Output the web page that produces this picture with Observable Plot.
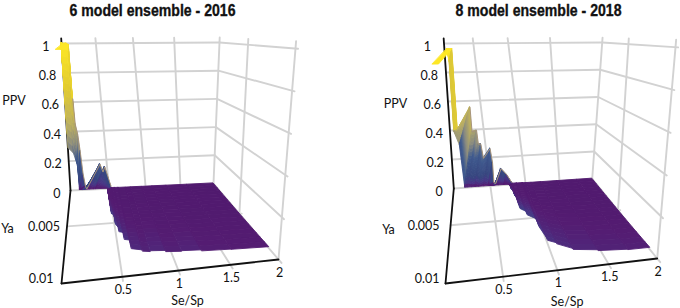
<!DOCTYPE html>
<html><head><meta charset="utf-8">
<style>html,body{margin:0;padding:0;background:#fff;overflow:hidden}svg{display:block}</style>
<script src="https://cdn.jsdelivr.net/npm/d3@7"></script>
<script src="https://cdn.jsdelivr.net/npm/@observablehq/plot@0.6"></script>
</head><body>
<script>
// ---- tick values and texts
const seTicks = [0.5, 1, 1.5, 2];
const yaTicks = [0.005, 0.01];
const ppvTicks = [0, 0.2, 0.4, 0.6, 0.8, 1];
const titles = ["6 model ensemble - 2016", "8 model ensemble - 2018"];

// ---- 2016 surface: crest and foot of the high-PPV curtain at Ya = 0
const seFoot16 = [0, .012, .075, .10, .11, .118, .12, .122, .13, .14, .15, .25, .30, .33, .50];
const ppvFoot16 = [1, .285, .25, .2, .18, .15, .08, 0, 0, 0, 0, 0, 0, 0, 0];
const seCrest16 = [0, .012, .075, .108, .112, .12, .144, .16, .176, .196, .21, .41, .44, .47, .53];
const ppvCrest16 = [1, 1, 1, .99, .62, .45, .38, .265, .11, .02, .005, .17, .115, .15, .015];
// ---- 2016 surface: low-PPV sheet, per Se/Sp column
const seSheet16 = [.485, .49, .49, .515, .515, .54, .54, .58, .58, .63, .63, .73, .8, .95, 1.1, 1.3, 1.6, 2];
const yaSheet16 = [.0002, .0044, .0048, .0050, .0060, .0064, .0067, .0068, .0074, .0075, .0082, .0084, .0085, .0086, .0087, .0088, .0089, .009];
const ppvSheet16 = [.04, .04, .04, .04, .036, .036, .03, .03, .024, .024, .018, .012, .016, .010, .013, .008, .007, .006];
// ---- 2016 surface: tip at the top of the curtain
const seTip16 = [.01, .11, .11, 0];
const yaTip16 = [0, 0, .0008, .0035];
const ppvTip16 = [.99, .99, .96, .97];

// ---- 2018 surface
const seFoot18 = [.05, .075, .064, .13, .155, .2, .25, .3, .35, .42, .48, .50, .555, .62, .7, .805];
const ppvFoot18 = [.96, .87, .39, .295, 0, 0, 0, 0, 0, 0, 0, 0, 0, 0, 0, 0];
const seCrest18 = [.05, .14, .119, .336, .328, .396, .40, .435, .45, .56, .57, .555, .58, .68, .75, .805];
const ppvCrest18 = [.96, .96, .40, .554, .385, .39, .295, .295, .195, .26, .16, .02, .015, .115, .07, .015];
const seSheet18 = [.75, .78, .78, .80, .80, .82, .82, .88, .88, .96, .97, .97, 1.01, 1.09, 1.23, 1.47, 1.77, 2];
const yaSheet18 = [.0004, .0016, .0021, .0026, .0033, .0040, .0049, .0053, .0056, .0061, .0063, .00675, .008, .0083, .00885, .0091, .00925, .00926];
const ppvSheet18 = [.07, .07, .065, .065, .06, .055, .05, .05, .045, .04, .035, .03, .025, .02, .016, .012, .01, .008];
const seTip18 = [.05, .14, .13, .04];
const yaTip18 = [0, 0, .0065, .0065];
const ppvTip18 = [.96, .96, .9, .9];

// ---- camera of each panel: screen image of the box corners
const cameras = [
  {floor: [[70,190],[213,183],[61,283],[278,259]], top: [[61,43],[219,42],[39,48],[295,48]]},
  {floor: [[453.3,188],[591.7,178.3],[445,283],[656.7,258]], top: [[443.5,43],[601.7,42],[415,46],[675,46.7]]}
];
function homography([O, S, Y, F]) {
  const a1 = F[0]-S[0], b1 = F[0]-Y[0], c1 = F[0]-O[0];
  const a2 = F[1]-S[1], b2 = F[1]-Y[1], c2 = F[1]-O[1];
  const det = a1*b2 - a2*b1;
  const ws = (c1*b2 - c2*b1)/det, wy = (a1*c2 - a2*c1)/det;
  return (s, y) => {
    const o = 1-s-y, d = o + ws*s + wy*y;
    return [0,1].map(i => (o*O[i] + ws*s*S[i] + wy*y*Y[i])/d);
  };
}
const projectors = cameras.map(c => {
  const f = homography(c.floor), t = homography(c.top);
  return (se, ya, ppv) => {
    const a = f(se/2, ya/.01), b = t(se/2, ya/.01);
    return [a[0]+(b[0]-a[0])*ppv, a[1]+(b[1]-a[1])*ppv];
  };
});

let uid = 0;
function quadRows(P, A, B, C, D, ppv, out) { // A,B first edge; C,D second edge
  const id = uid++;
  const a=P(...A), b=P(...B), c=P(...C), d=P(...D);
  out.push({id, x1:a[0], y1:a[1], x2:b[0], y2:b[1], ppv});
  out.push({id, x1:c[0], y1:c[1], x2:d[0], y2:d[1], ppv});
}
function curtain(P, seF, pF, seC, pC, out) {
  const n = 16;
  for (let i = 0; i+1 < seF.length; i++) for (let k = 0; k < n; k++) {
    const at = (j, t) => [seF[j]+(seC[j]-seF[j])*t, 0, pF[j]+(pC[j]-pF[j])*t];
    const A = at(i,k/n), B = at(i,(k+1)/n), C = at(i+1,k/n), D = at(i+1,(k+1)/n);
    quadRows(P, A, B, C, D, (A[2]+B[2]+C[2]+D[2])/4, out);
  }
}
function sheet(P, se, ya, pp, out) {
  const n = 18;
  for (let i = 0; i+1 < se.length; i++) for (let k = 0; k < n; k++) {
    const t0 = k/n, t1 = (k+1)/n;
    const h = t => pp[i]*(.1 + .9*t*t*t);
    quadRows(P, [se[i],ya[i]*t0,h(t0)], [se[i],ya[i]*t1,h(t1)], [se[i+1],ya[i+1]*t0,h(t0)], [se[i+1],ya[i+1]*t1,h(t1)], h((t0+t1)/2), out);
  }
}

const ppvLabelDx = [-10, -7, -6, -6, -7, -12];
const gridRows = [], blackRows = [], surfaceRows = [], rimRows = [], endLabels = [], midLabels = [];
const panels = [
  {seF:seFoot16,pF:ppvFoot16,seC:seCrest16,pC:ppvCrest16,seS:seSheet16,yS:yaSheet16,pS:ppvSheet16,seT:seTip16,yT:yaTip16,pT:ppvTip16,rimFrom:4,
   title:[152,10], ppvT:[13.5,100], yaT:[7,228], seT2:[187,300], ppvDx:0, yaDx:[-7,-8]},
  {seF:seFoot18,pF:ppvFoot18,seC:seCrest18,pC:ppvCrest18,seS:seSheet18,yS:yaSheet18,pS:ppvSheet18,seT:seTip18,yT:yaTip18,pT:ppvTip18,rimFrom:3,
   title:[538,10], ppvT:[395,103], yaT:[388,229], seT2:[566.7,301.7], ppvDx:-1, yaDx:[-11,-6]}
];
panels.forEach((pn, idx) => {
  const P = projectors[idx];
  const seg = (pts, out) => { const id = uid++; pts.forEach(q => { const [x,y]=P(...q); out.push({id,x,y}); }); };
  // back wall, right wall and floor grid
  seTicks.forEach(s => { seg([[s,0,0],[s,0,1.035]], gridRows); seg([[s,0,0],[s,.0103,0]], gridRows); });
  ppvTicks.forEach(p => { seg([[0,0,p],[2,0,p]], gridRows); if (p>0) seg([[2,0,p],[2,.0102,p]], gridRows); });
  yaTicks.forEach(y => { seg([[2,y,0],[2,y,1.035]], gridRows); });
  seg([[0,.005,0],[2.03,.005,0]], gridRows);
  // black axes
  seg([[0,0,0],[0,0,1.035]], blackRows);
  seg([[0,0,0],[0,.01,0]], blackRows);
  seg([[0,.01,0],[2,.01,0]], blackRows);
  // surface
  sheet(P, pn.seS, pn.yS, pn.pS, surfaceRows);
  curtain(P, pn.seF, pn.pF, pn.seC, pn.pC, surfaceRows);
  quadRows(P, [pn.seT[0],pn.yT[0],pn.pT[0]], [pn.seT[3],pn.yT[3],pn.pT[3]], [pn.seT[1],pn.yT[1],pn.pT[1]], [pn.seT[2],pn.yT[2],pn.pT[2]], 1, surfaceRows);
  seg(pn.seC.slice(pn.rimFrom).map((s,i) => [s,0,pn.pC[i+pn.rimFrom]]), rimRows);
  // tick labels
  ppvTicks.forEach((p,i) => { const [x,y]=P(0,0,p); endLabels.push({x:x+ppvLabelDx[i]+pn.ppvDx,y:y+3,text:String(p)}); });
  yaTicks.forEach((v,i) => { const [x,y]=P(0,v,0); endLabels.push({x:x+pn.yaDx[i],y:y+(i?-5:1),text:String(v)}); });
  seTicks.forEach(s => { const [x,y]=P(s,.01,0); midLabels.push({x:x+1,y:y+13,text:String(s)}); });
  midLabels.push({x:pn.ppvT[0],y:pn.ppvT[1],text:"PPV"});
  midLabels.push({x:pn.yaT[0],y:pn.yaT[1],text:"Ya"});
  midLabels.push({x:pn.seT2[0],y:pn.seT2[1],text:"Se/Sp"});
});
const titleRows = panels.map((pn,i) => ({x:pn.title[0], y:pn.title[1], text:titles[i]}));

const labelStyle = {x:"x", y:"y", text:"text", fontFamily:"Lato", fontSize:12.5, fill:"#111"};
const chart = Plot.plot({
  width: 680, height: 308, margin: 0,
  x: {domain:[0,680], range:[0,680], axis:null},
  y: {domain:[0,308], range:[0,308], axis:null},
  color: {type:"linear", domain:[0,.006,.03,.07,.2,.3,.45,.7,1],
          range:["#501a6e","#541c72","#483686","#37467f","#3f5a8e","#8a8b80","#bdb060","#e2cc30","#fde725"]},
  marks: [
    Plot.line(gridRows, {x:"x", y:"y", z:"id", stroke:"#d2d2d2", strokeWidth:1.9}),
    Plot.line(blackRows, {x:"x", y:"y", z:"id", stroke:"#111", strokeWidth:1.8}),
    Plot.area(surfaceRows, {x1:"x1", y1:"y1", x2:"x2", y2:"y2", z:"id", fill:"ppv", stroke:"ppv", strokeWidth:.9}),
    Plot.line(rimRows, {x:"x", y:"y", z:"id", stroke:"#a8957c", strokeWidth:1}),
    Plot.text(endLabels, {...labelStyle, textAnchor:"end"}),
    Plot.text(midLabels, {...labelStyle, textAnchor:"middle"}),
    Plot.text(titleRows, {x:"x", y:"y", text:"text", className:"panel-title", fontFamily:"Liberation Sans", fontWeight:"bold", fontSize:16.5, fill:"#111", stroke:"#111", strokeWidth:.35})
  ]
});
document.body.appendChild(chart);
chart.querySelectorAll(".panel-title text").forEach(t => {
  t.setAttribute("textLength", 166);
  t.setAttribute("lengthAdjust", "spacingAndGlyphs");
});
</script>
</body></html>
